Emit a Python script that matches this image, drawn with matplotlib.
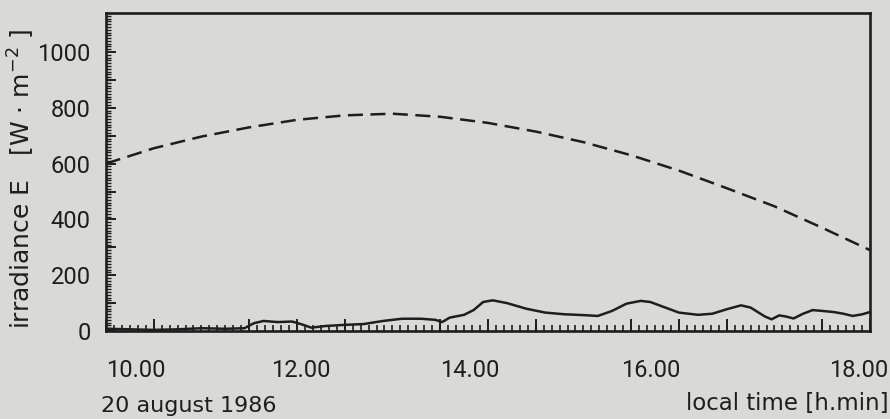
import matplotlib
matplotlib.use("Agg")
import matplotlib.pyplot as plt
import matplotlib.transforms as mtransforms
from matplotlib.ticker import MultipleLocator
import numpy as np

# dashed curve (clear-sky irradiance)
t_dash = [10.0, 10.5, 11.0, 11.5, 12.0, 12.5, 13.0, 13.5, 14.0, 14.5,
          15.0, 15.5, 16.0, 16.5, 17.0, 17.5, 18.0]
e_dash = [600, 655, 697, 730, 757, 773, 779, 768, 746, 715,
          677, 630, 575, 512, 447, 370, 290]

# solid curve (measured irradiance)
t_meas = [10.0, 10.25, 10.5, 10.75, 11.0, 11.25, 11.45, 11.55, 11.65, 11.8,
          11.95, 12.05, 12.15, 12.3, 12.5, 12.7, 12.9, 13.1, 13.3, 13.45,
          13.52, 13.6, 13.75, 13.85, 13.95, 14.05, 14.2, 14.4, 14.6, 14.8,
          15.0, 15.15, 15.3, 15.45, 15.6, 15.7, 15.85, 16.0, 16.2, 16.35,
          16.5, 16.65, 16.75, 16.9, 16.97, 17.05, 17.12, 17.2, 17.3, 17.4,
          17.5, 17.62, 17.72, 17.82, 17.92, 18.0]
e_meas = [8, 6, 4, 6, 10, 8, 10, 28, 36, 32,
          34, 24, 12, 18, 22, 25, 36, 44, 44, 40,
          32, 48, 58, 75, 104, 110, 100, 80, 66, 60,
          57, 54, 72, 98, 108, 104, 85, 66, 58, 62,
          78, 92, 84, 52, 42, 56, 52, 45, 62, 75,
          72, 68, 62, 54, 60, 68]

x_ticks = [10, 12, 14, 16, 18]
x_labels = ["10.00", "12.00", "14.00", "16.00", "18.00"]
y_ticks = [0, 200, 400, 600, 800, 1000]

paper = "#d9d9d7"
ink = "#1e1e1e"

plt.rcParams['font.family'] = ['Roboto', 'DejaVu Sans']

fig = plt.figure(figsize=(8.9, 4.19), dpi=100, facecolor=paper)
ax = fig.add_axes([0.119, 0.21, 0.8585, 0.759])
ax.set_facecolor(paper)

ax.plot(t_dash, e_dash, color=ink, lw=1.8, dashes=(6, 3))
ax.plot(t_meas, e_meas, color=ink, lw=1.8)

ax.set_xlim(10, 18)
ax.set_ylim(0, 1140)

for s in ax.spines.values():
    s.set_linewidth(1.9)
    s.set_color(ink)

ax.set_xticks(x_ticks)
ax.set_xticklabels(x_labels)
ax.xaxis.set_minor_locator(MultipleLocator(1 / 12))
ax.set_yticks(y_ticks)
ax.yaxis.set_minor_locator(MultipleLocator(10))

ax.tick_params(axis='x', which='major', direction='in', length=9, width=1.4,
               color=ink, labelsize=17, labelcolor=ink, pad=20)
ax.tick_params(axis='x', which='minor', direction='in', length=4, width=1.2, color=ink)
ax.tick_params(axis='y', which='major', direction='in', length=7, width=1.4,
               color=ink, labelsize=17, labelcolor=ink, pad=11)
ax.tick_params(axis='y', which='minor', direction='in', length=3.5, width=1.0, color=ink)

# half-hour and 100 W/m2 marks, same length as the labelled ones
sec_x = ax.secondary_xaxis('bottom')
sec_x.set_xticks(np.arange(10.5, 18, 1.0))
sec_x.set_xticklabels([])
sec_x.tick_params(direction='in', length=9, width=1.4, color=ink)
sec_x.spines['bottom'].set_visible(False)

sec_y = ax.secondary_yaxis('left')
sec_y.set_yticks(np.arange(100, 1100, 200))
sec_y.set_yticklabels([])
sec_y.tick_params(direction='in', length=7, width=1.4, color=ink)
sec_y.spines['left'].set_visible(False)

# nudge the hour labels to where they sit in the scan
shifts = [0, 4, -18, -28, 18]
labels = ax.get_xticklabels()
for lab, dx in zip(labels, shifts):
    lab.set_transform(lab.get_transform() +
                      mtransforms.ScaledTranslation(dx / 100, 0, fig.dpi_scale_trans))
labels[0].set_horizontalalignment('left')
labels[-1].set_horizontalalignment('right')

ax.set_ylabel("irradiance E   [W · m$^{-2}$ ]", fontsize=18, color=ink,
              family=['DejaVu Sans'])
ax.yaxis.set_label_coords(-0.09, 0.48)

fig.text(0.113, 0.017, "20 august 1986", fontsize=16, color=ink, ha='left',
         va='baseline', family=['DejaVu Sans'])
fig.text(0.998, 0.022, "local time [h.min]", fontsize=16.5, color=ink, ha='right',
         va='baseline', family=['DejaVu Sans'])

fig.savefig("out.png", dpi=100, facecolor=paper)
